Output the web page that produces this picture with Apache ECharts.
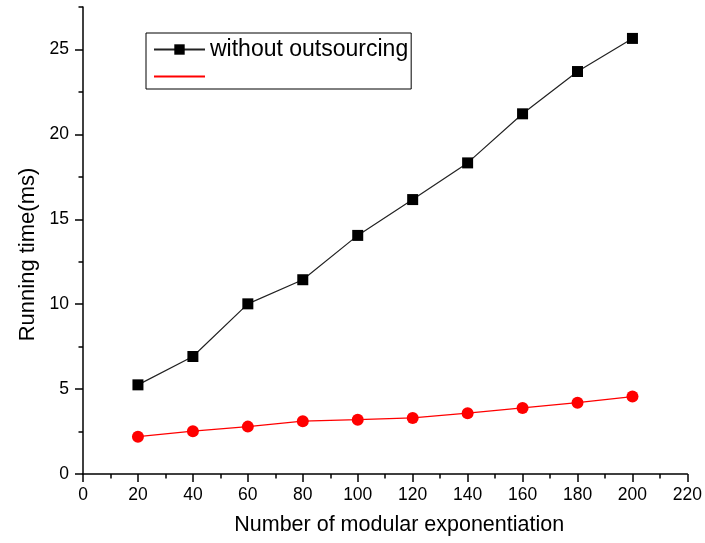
<!DOCTYPE html>
<html>
<head>
<meta charset="utf-8">
<script src="https://cdn.jsdelivr.net/npm/echarts@6/dist/echarts.min.js"></script>
<style>html,body{margin:0;padding:0;background:#fff;}#c{width:705px;height:543px;}</style>
</head>
<body>
<div id="c"></div>
<script>
const xValues = [20, 40, 60, 80, 100, 120, 140, 160, 180, 200];
const withoutOutsourcing = [5.25, 6.92, 10.02, 11.44, 14.05, 16.16, 18.32, 21.21, 23.70, 25.65];
const withOutsourcing = [2.20, 2.52, 2.79, 3.11, 3.20, 3.30, 3.58, 3.89, 4.20, 4.56];
const yTickValues = [0, 5, 10, 15, 20, 25];
const seriesNames = ['without outsourcing', ' '];

const FONT = 'Liberation Sans, Arial, sans-serif';
const chart = echarts.init(document.getElementById('c'), null, {renderer: 'canvas'});
chart.setOption({
  animation: false,
  backgroundColor: '#fff',
  grid: {left: 83, right: 17, top: 7, bottom: 69, containLabel: false},
  legend: {
    orient: 'vertical',
    left: 146, top: 33,
    padding: [5, 3, 1, 7],
    itemGap: 4,
    itemWidth: 51, itemHeight: 13,
    borderColor: '#000', borderWidth: 1,
    textStyle: {fontFamily: FONT, fontSize: 23, color: '#000'},
    data: [
      {name: seriesNames[0]},
      {name: seriesNames[1], itemStyle: {opacity: 0}}
    ]
  },
  xAxis: {
    type: 'value', min: 0, max: 220, interval: 20,
    name: 'Number of modular exponentiation',
    nameLocation: 'middle', nameGap: 40,
    nameTextStyle: {fontFamily: FONT, fontSize: 21.5, color: '#000', padding: [0, 0, 0, 28]},
    axisLine: {onZero: false, lineStyle: {color: '#000', width: 1.5}},
    axisTick: {show: true, inside: false, length: 8, lineStyle: {color: '#000', width: 1.5}},
    minorTick: {show: true, splitNumber: 2, length: 4.5, lineStyle: {color: '#000', width: 1.5}},
    axisLabel: {fontFamily: FONT, fontSize: 17.5, color: '#000', margin: 12},
    splitLine: {show: false}, minorSplitLine: {show: false}
  },
  yAxis: [{
    type: 'value', min: 0, max: 27.5, interval: 5,
    name: 'Running time(ms)',
    nameLocation: 'middle', nameGap: 44,
    nameTextStyle: {fontFamily: FONT, fontSize: 22, color: '#000', padding: [0, 28, 0, 0]},
    axisLine: {onZero: false, lineStyle: {color: '#000', width: 1.5}},
    axisTick: {show: true, inside: false, length: 8, customValues: yTickValues, lineStyle: {color: '#000', width: 1.5}},
    axisLabel: {fontFamily: FONT, fontSize: 17.5, color: '#000', margin: 14, customValues: yTickValues},
    splitLine: {show: false}
  }, {
    type: 'value', min: 0, max: 27.5, interval: 2.5, position: 'left', offset: 0,
    axisLine: {show: false},
    axisTick: {show: true, inside: false, length: 4.5, lineStyle: {color: '#000', width: 1.5}},
    axisLabel: {show: false},
    splitLine: {show: false}
  }],
  series: [{
    name: seriesNames[0],
    type: 'line',
    data: xValues.map((x, i) => [x, withoutOutsourcing[i]]),
    symbol: 'rect', symbolSize: 11,
    itemStyle: {color: '#000'},
    lineStyle: {color: '#222', width: 1.2}
  }, {
    name: seriesNames[1],
    type: 'line',
    data: xValues.map((x, i) => [x, withOutsourcing[i]]),
    symbol: 'circle', symbolSize: 12,
    itemStyle: {color: '#ff0000'},
    lineStyle: {color: '#ff0000', width: 1.2}
  }]
});
</script>
</body>
</html>
